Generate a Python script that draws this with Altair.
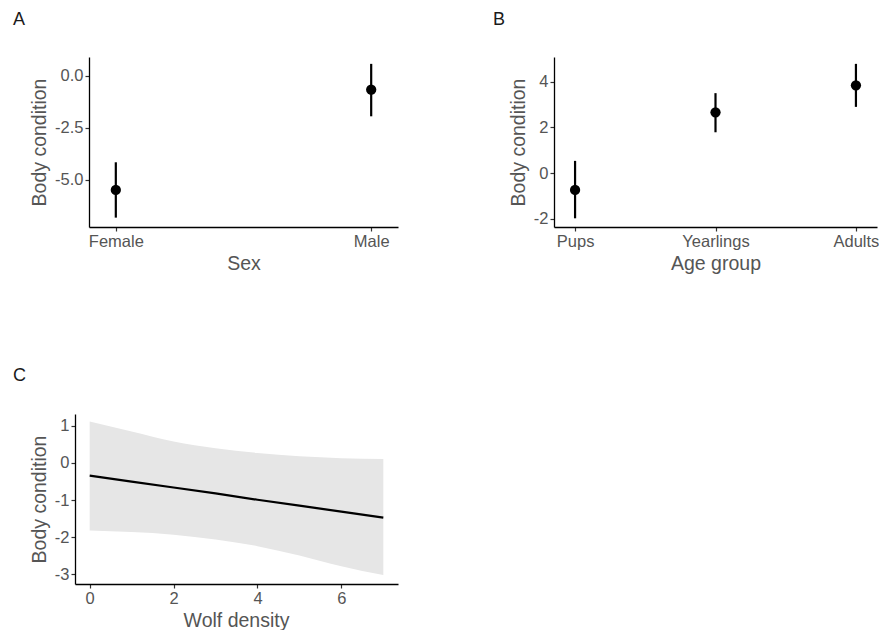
import altair as alt
import pandas as pd

# Panel A: Sex
sex = ["Female", "Male"]
sex_est = [-5.48, -0.66]
sex_lo = [-6.81, -1.94]
sex_hi = [-4.15, 0.58]

# Panel B: Age group
age = ["Pups", "Yearlings", "Adults"]
age_est = [-0.73, 2.66, 3.84]
age_lo = [-1.97, 1.79, 2.90]
age_hi = [0.54, 3.50, 4.78]

# Panel C: Wolf density
dens = [0, 1, 2, 3, 4, 5, 6, 7]
dens_fit = [-0.34, -0.50, -0.66, -0.82, -0.99, -1.15, -1.31, -1.47]
dens_hi = [1.12, 0.85, 0.58, 0.40, 0.27, 0.18, 0.13, 0.11]
dens_lo = [-1.82, -1.86, -1.93, -2.06, -2.24, -2.49, -2.78, -3.02]

FONT = "Liberation Sans"
GRAY = "#555555"

dfA = pd.DataFrame({"g": sex, "est": sex_est, "lo": sex_lo, "hi": sex_hi})
dfB = pd.DataFrame({"g": age, "est": age_est, "lo": age_lo, "hi": age_hi})
dfC = pd.DataFrame({"x": dens, "fit": dens_fit, "lo": dens_lo, "hi": dens_hi})

minus_expr = "datum.value < 0 ? '-' + format(-datum.value, '{f}') : format(datum.value, '{f}')"


def panel_title(t, dx, offset):
    return alt.TitleParams(text=t, anchor="start", frame="group", dx=dx, offset=offset,
                           fontSize=18, font=FONT, fontWeight="normal", color="#1a1a1a",
                           baseline="alphabetic")


def point_panel(df, cats, xtitle, ydomain, yticks, fmt, pad, width, title):
    x = alt.X("g:N", sort=cats, title=xtitle,
              scale=alt.Scale(type="point", padding=pad),
              axis=alt.Axis(labelAngle=0))
    y_axis = alt.Axis(values=yticks, labelExpr=minus_expr.replace("{f}", fmt))
    base = alt.Chart(df)
    rule = base.mark_rule(color="black", strokeWidth=2.2).encode(
        x=x,
        y=alt.Y("lo:Q", title="Body condition", scale=alt.Scale(domain=ydomain, nice=False, zero=False),
                axis=y_axis),
        y2="hi:Q",
    )
    pts = base.mark_circle(color="black", opacity=1, size=105).encode(
        x=x,
        y=alt.Y("est:Q"),
    )
    return (rule + pts).properties(width=width, height=170, title=title)


chartA = point_panel(dfA, sex, "Sex", [-7.26, 0.91], [-5.0, -2.5, 0.0], ".1f", 0.105, 309,
                     panel_title("A", -76, 14))
chartB = point_panel(dfB, age, "Age group", [-2.35, 5.08], [-2, 0, 2, 4], "d", 0.15, 323,
                     panel_title("B", -61, 14))

# Panel C's plot area starts 14 px left of panel A's (as in the reference):
# the x range reaches past the group's left edge and the y axis is offset to match.
xC = alt.X("x:Q", title="Wolf density",
           scale=alt.Scale(domain=[-0.35, 7.35], nice=False, zero=False, range=[-14, 309]),
           axis=alt.Axis(values=[0, 2, 4, 6], titleX=147))
yscaleC = alt.Scale(domain=[-3.26, 1.32], nice=False, zero=False)
band = alt.Chart(dfC).mark_area(color="#e6e6e6", opacity=1, interpolate="monotone").encode(
    x=xC,
    y=alt.Y("lo:Q", title="Body condition", scale=yscaleC,
            axis=alt.Axis(values=[-3, -2, -1, 0, 1], offset=14,
                          labelExpr=minus_expr.replace("{f}", "d"))),
    y2="hi:Q",
)
line = alt.Chart(dfC).mark_line(color="black", strokeWidth=2.2).encode(
    x=xC,
    y=alt.Y("fit:Q"),
)
chartC = (band + line).properties(width=309, height=170, title=panel_title("C", -76, 15))

chart = alt.concat(chartA, chartB, chartC, columns=2, align="none",
                   spacing={"row": 94, "column": 81}).properties(
    padding={"left": 13, "top": 11, "right": 0, "bottom": 0},
    background="white",
).configure_view(stroke=None).configure_axis(
    grid=False,
    domainColor="black",
    domainWidth=1.3,
    tickColor="#333333",
    tickWidth=1.2,
    tickSize=4,
    labelFont=FONT,
    labelFontSize=16.5,
    labelColor=GRAY,
    labelPadding=2,
    titleFont=FONT,
    titleFontSize=19.5,
    titleColor=GRAY,
    titleFontWeight="normal",
    titlePadding=5,
)

chart.save("out.html", embed_options={"renderer": "svg", "actions": False})
